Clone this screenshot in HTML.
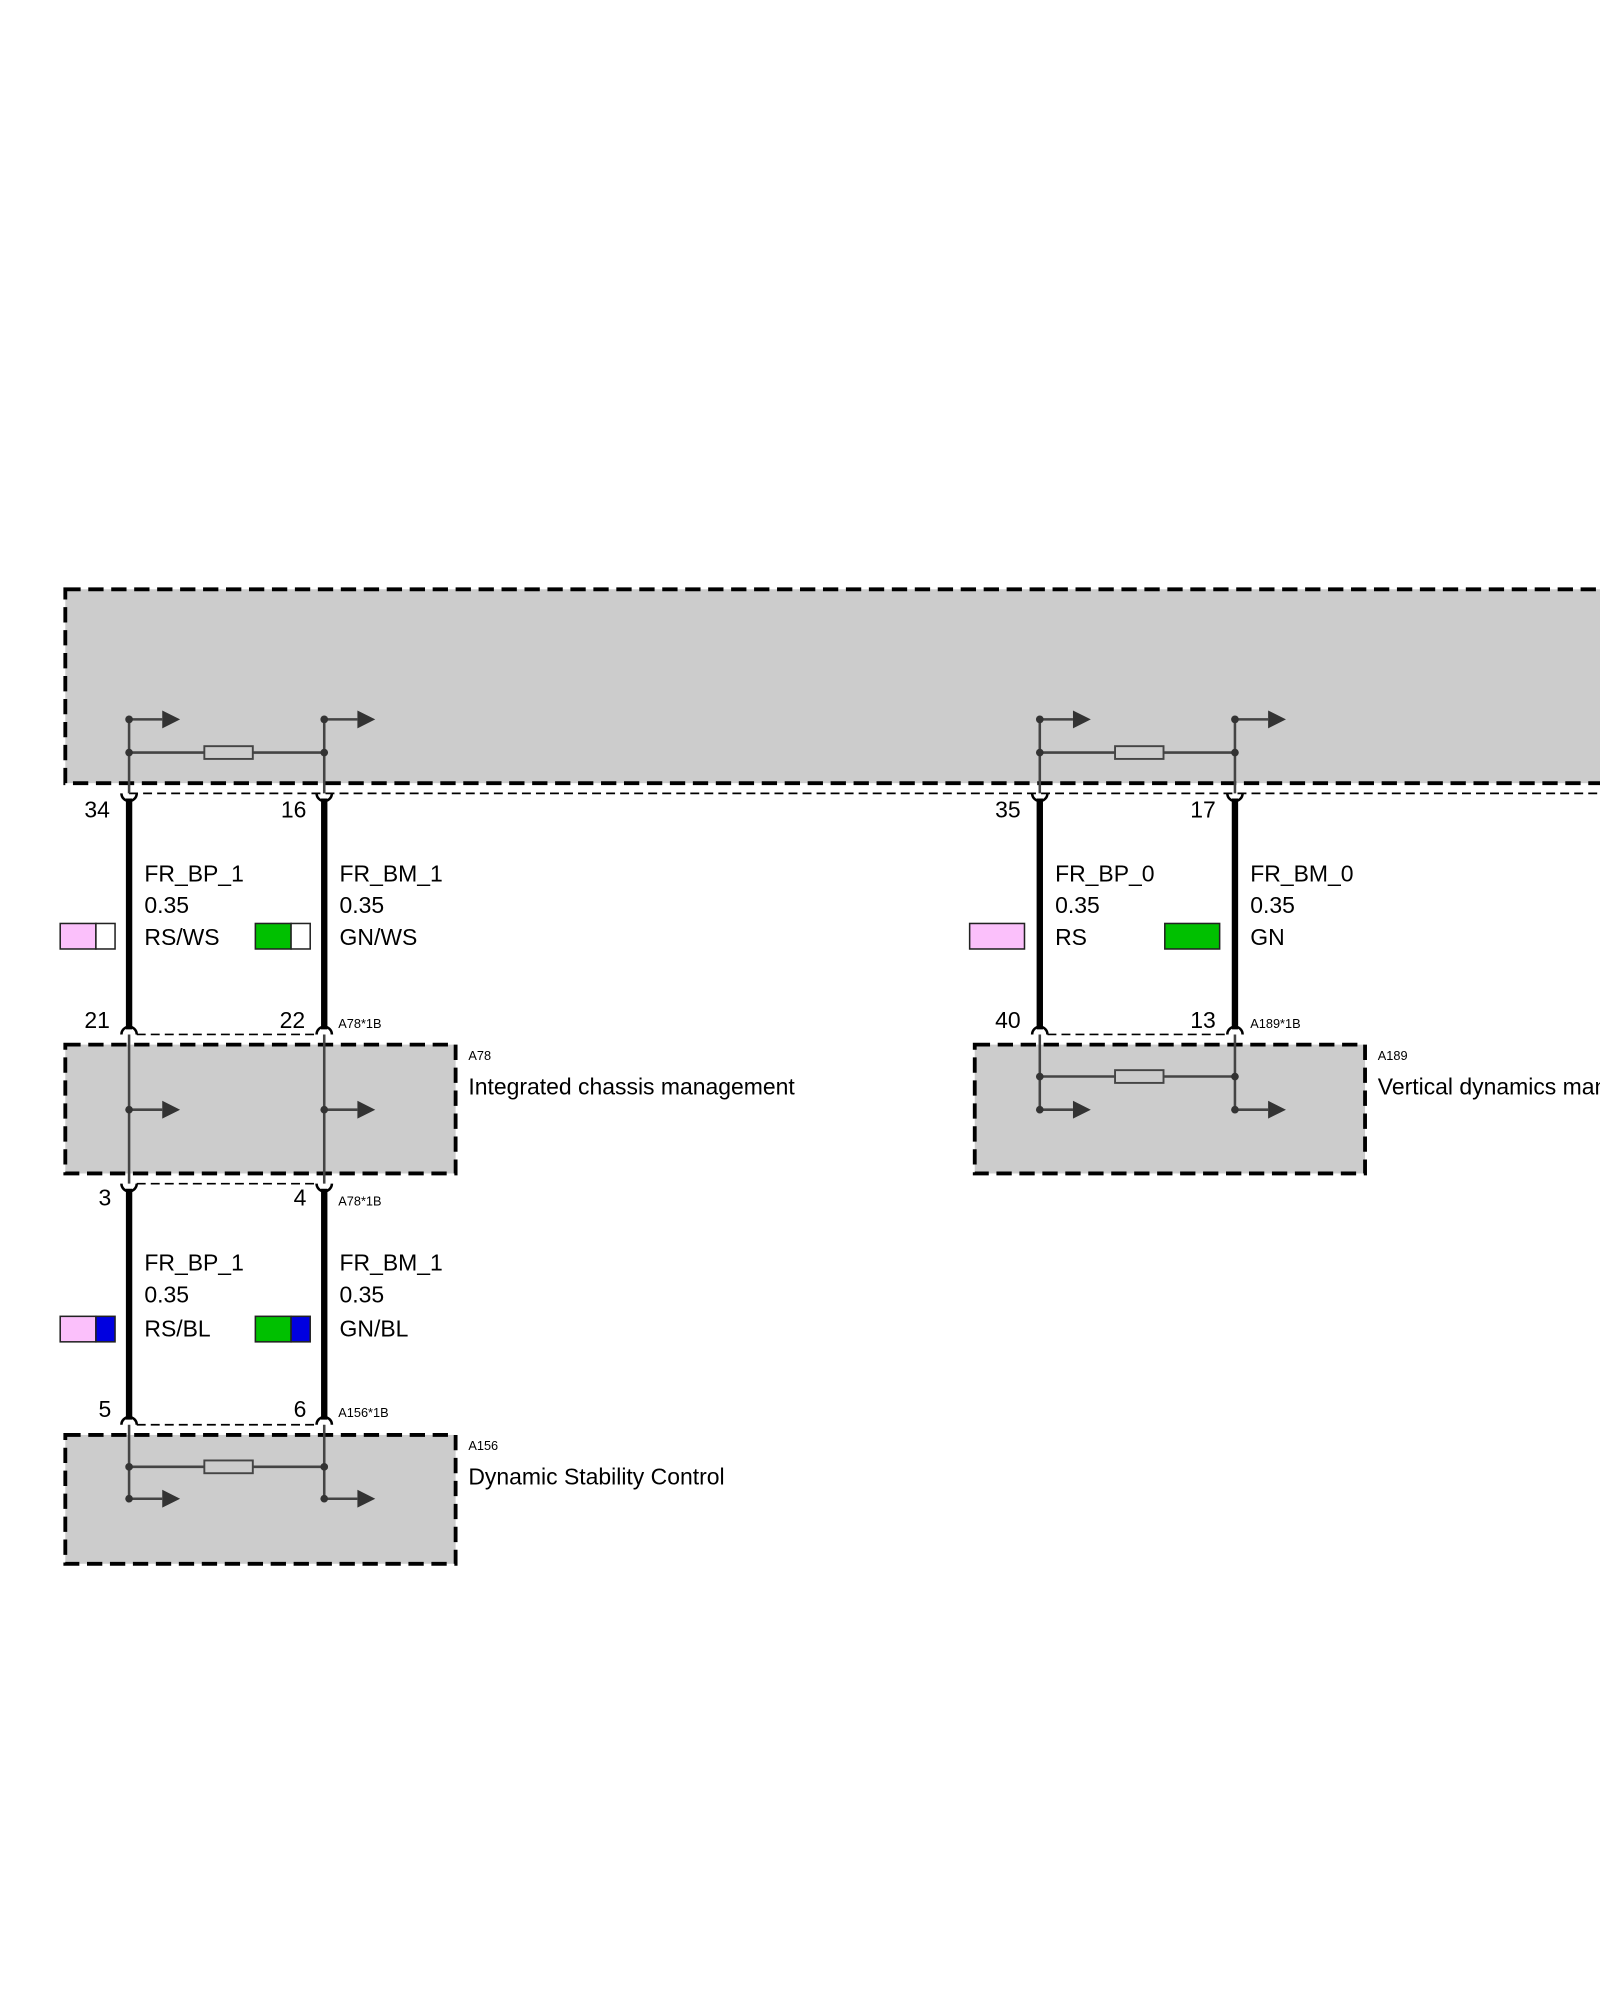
<!DOCTYPE html>
<html><head><meta charset="utf-8"><style>
html,body{margin:0;padding:0;background:#fff;}
svg{display:block;}
text{font-family:"Liberation Sans",Arial,sans-serif;fill:#000;}
</style></head><body>
<svg width="1600" height="2000" viewBox="0 0 1254 1568" xmlns="http://www.w3.org/2000/svg">
<defs>
<marker id="ah" markerWidth="10" markerHeight="10" refX="0" refY="5" orient="auto" markerUnits="userSpaceOnUse">
<path d="M0,0 L14,5 L0,10 Z" fill="#333"/>
</marker>
<g id="arr"><line x1="0" y1="0" x2="26" y2="0" stroke="#444" stroke-width="2"/><path d="M26,-7 L40,0 L26,7 Z" fill="#333"/><circle cx="0" cy="0" r="3" fill="#333"/></g>
<g id="res"><line x1="0" y1="0" x2="153" y2="0" stroke="#444" stroke-width="2"/><rect x="59" y="-5" width="38" height="10" fill="#ccc" stroke="#444" stroke-width="1.5"/><circle cx="0" cy="0" r="3" fill="#333"/><circle cx="153" cy="0" r="3" fill="#333"/></g>
</defs>

<!-- top box -->
<rect x="51" y="462" width="1220" height="152" fill="#ccc" stroke="#000" stroke-width="3" stroke-dasharray="12,6"/>
<line x1="101" y1="622" x2="1254" y2="622" stroke="#000" stroke-width="1.3" stroke-dasharray="7,4"/>
<!-- top internals left -->
<line x1="101" y1="564" x2="101" y2="622" stroke="#444" stroke-width="2"/>
<line x1="254" y1="564" x2="254" y2="622" stroke="#444" stroke-width="2"/>
<use href="#arr" x="101" y="564"/><use href="#arr" x="254" y="564"/>
<use href="#res" x="101" y="590"/>
<!-- top internals right -->
<line x1="815" y1="564" x2="815" y2="622" stroke="#444" stroke-width="2"/>
<line x1="968" y1="564" x2="968" y2="622" stroke="#444" stroke-width="2"/>
<use href="#arr" x="815" y="564"/><use href="#arr" x="968" y="564"/>
<use href="#res" x="815" y="590"/>

<!-- wires -->
<g stroke="#000" stroke-width="5">
<line x1="101" y1="626" x2="101" y2="807"/><line x1="254" y1="626" x2="254" y2="807"/>
<line x1="815" y1="626" x2="815" y2="807"/><line x1="968" y1="626" x2="968" y2="807"/>
<line x1="101" y1="932" x2="101" y2="1113"/><line x1="254" y1="932" x2="254" y2="1113"/>
</g>
<!-- terminal arcs -->
<g fill="none" stroke="#000" stroke-width="2">
<path d="M95,622 A6,6 0 0 0 107,622"/><path d="M248,622 A6,6 0 0 0 260,622"/>
<path d="M809,622 A6,6 0 0 0 821,622"/><path d="M962,622 A6,6 0 0 0 974,622"/>
<path d="M95,811 A6,6 0 0 1 107,811"/><path d="M248,811 A6,6 0 0 1 260,811"/>
<path d="M809,811 A6,6 0 0 1 821,811"/><path d="M962,811 A6,6 0 0 1 974,811"/>
<path d="M95,928 A6,6 0 0 0 107,928"/><path d="M248,928 A6,6 0 0 0 260,928"/>
<path d="M95,1117 A6,6 0 0 1 107,1117"/><path d="M248,1117 A6,6 0 0 1 260,1117"/>
</g>
<g stroke="#000" stroke-width="1.3" stroke-dasharray="7,4">
<line x1="107" y1="811" x2="248" y2="811"/><line x1="821" y1="811" x2="962" y2="811"/>
<line x1="107" y1="928" x2="248" y2="928"/><line x1="107" y1="1117" x2="248" y2="1117"/>
</g>

<!-- A78 box -->
<rect x="51" y="819" width="306" height="101" fill="#ccc" stroke="#000" stroke-width="3" stroke-dasharray="12,6"/>
<line x1="101" y1="811" x2="101" y2="928" stroke="#444" stroke-width="2"/>
<line x1="254" y1="811" x2="254" y2="928" stroke="#444" stroke-width="2"/>
<use href="#arr" x="101" y="870"/><use href="#arr" x="254" y="870"/>
<text x="367" y="831" font-size="10">A78</text>
<text x="367" y="858" font-size="18">Integrated chassis management</text>

<!-- A189 box -->
<rect x="764" y="819" width="306" height="101" fill="#ccc" stroke="#000" stroke-width="3" stroke-dasharray="12,6"/>
<line x1="815" y1="811" x2="815" y2="870" stroke="#444" stroke-width="2"/>
<line x1="968" y1="811" x2="968" y2="870" stroke="#444" stroke-width="2"/>
<use href="#res" x="815" y="844"/>
<use href="#arr" x="815" y="870"/><use href="#arr" x="968" y="870"/>
<text x="1080" y="831" font-size="10">A189</text>
<text x="1080" y="858" font-size="18">Vertical dynamics management</text>

<!-- A156 box -->
<rect x="51" y="1125" width="306" height="101" fill="#ccc" stroke="#000" stroke-width="3" stroke-dasharray="12,6"/>
<line x1="101" y1="1117" x2="101" y2="1175" stroke="#444" stroke-width="2"/>
<line x1="254" y1="1117" x2="254" y2="1175" stroke="#444" stroke-width="2"/>
<use href="#res" x="101" y="1150"/>
<use href="#arr" x="101" y="1175"/><use href="#arr" x="254" y="1175"/>
<text x="367" y="1137" font-size="10">A156</text>
<text x="367" y="1164" font-size="18">Dynamic Stability Control</text>

<!-- pin numbers -->
<g font-size="18">
<text x="66" y="641">34</text><text x="220" y="641">16</text>
<text x="66" y="806">21</text><text x="219" y="806">22</text>
<text x="780" y="641">35</text><text x="933" y="641">17</text>
<text x="780" y="806">40</text><text x="933" y="806">13</text>
<text x="77" y="945">3</text><text x="230" y="945">4</text>
<text x="77" y="1111">5</text><text x="230" y="1111">6</text>
</g>
<g font-size="10">
<text x="265" y="806">A78*1B</text><text x="980" y="806">A189*1B</text>
<text x="265" y="945">A78*1B</text><text x="265" y="1111">A156*1B</text>
</g>

<!-- wire labels -->
<g font-size="18">
<text x="113" y="691">FR_BP_1</text><text x="113" y="716">0.35</text><text x="113" y="741">RS/WS</text>
<text x="266" y="691">FR_BM_1</text><text x="266" y="716">0.35</text><text x="266" y="741">GN/WS</text>
<text x="827" y="691">FR_BP_0</text><text x="827" y="716">0.35</text><text x="827" y="741">RS</text>
<text x="980" y="691">FR_BM_0</text><text x="980" y="716">0.35</text><text x="980" y="741">GN</text>
<text x="113" y="996">FR_BP_1</text><text x="113" y="1021">0.35</text><text x="113" y="1048">RS/BL</text>
<text x="266" y="996">FR_BM_1</text><text x="266" y="1021">0.35</text><text x="266" y="1048">GN/BL</text>
</g>

<!-- swatches -->
<g stroke="#222" stroke-width="1.2">
<rect x="47" y="724" width="28" height="20" fill="#fbc0fb"/><rect x="75" y="724" width="15" height="20" fill="#fff"/>
<rect x="200" y="724" width="28" height="20" fill="#00c000"/><rect x="228" y="724" width="15" height="20" fill="#fff"/>
<rect x="760" y="724" width="43" height="20" fill="#fbc0fb"/>
<rect x="913" y="724" width="43" height="20" fill="#00c000"/>
<rect x="47" y="1032" width="28" height="20" fill="#fbc0fb"/><rect x="75" y="1032" width="15" height="20" fill="#0000e0"/>
<rect x="200" y="1032" width="28" height="20" fill="#00c000"/><rect x="228" y="1032" width="15" height="20" fill="#0000e0"/>
</g>
</svg>
</body></html>
